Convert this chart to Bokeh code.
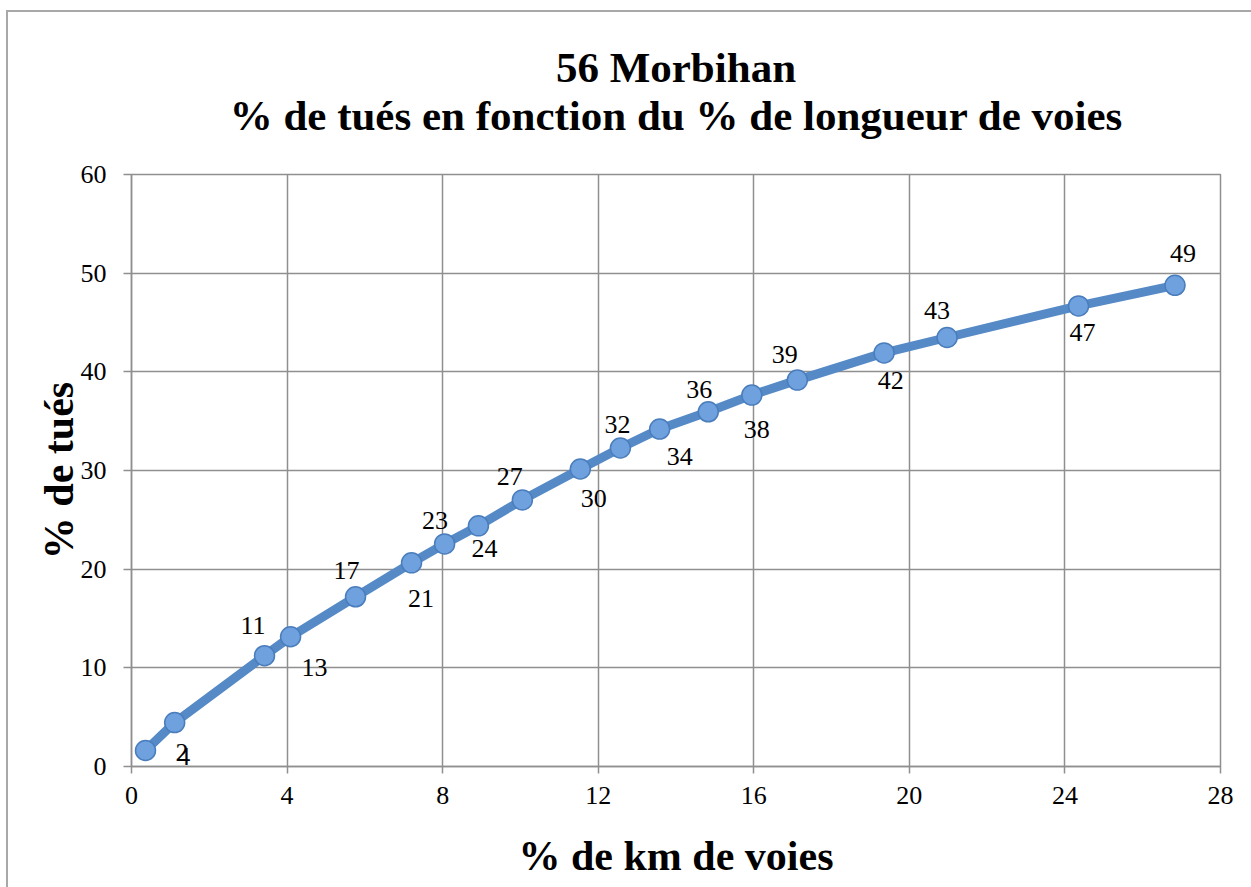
from bokeh.plotting import figure
from bokeh.models import Range1d, FixedTicker, ColumnDataSource, Div
from bokeh.layouts import column
from bokeh.core.properties import value
from bokeh.embed import file_html
from bokeh.resources import INLINE

# ---- data ----
km_pct = [0.36, 1.11, 3.42, 4.09, 5.76, 7.20, 8.05, 8.92, 10.05, 11.54,
          12.57, 13.58, 14.83, 15.95, 17.12, 19.35, 20.97, 24.35, 26.83]
tues_pct = [1.62, 4.45, 11.23, 13.15, 17.20, 20.64, 22.56, 24.39, 27.02, 30.15,
            32.28, 34.20, 35.95, 37.64, 39.16, 41.92, 43.48, 46.68, 48.77]
point_labels = ["2", "4", "11", "13", "17", "21", "23", "24", "27", "30",
                "32", "34", "36", "38", "39", "42", "43", "47", "49"]
x_ticks = [0, 4, 8, 12, 16, 20, 24, 28]
y_ticks = [0, 10, 20, 30, 40, 50, 60]

title_line1 = "56 Morbihan"
title_line2 = "% de tués en fonction du % de longueur de voies"
x_title = "% de km de voies"
y_title = "% de tués"

# ---- label placement (screen pixel offsets, style only) ----
label_dx = [36.5, 9, -11.5, 24, -9, 9.5, -9.5, 6, -12.5, 13.5,
            -3, 20, -9, 5, -12.5, 6.6, -10, 4, 8]
label_dy = [2, 34, -30, 30.5, -26, 36, -23, 23, -23, 29.5,
            -24, 27, -22, 34, -26, 28, -27, 26.5, -32]

GRID = "#8f8f8f"
LINE = "#568ac7"
SERIF = "Liberation Serif"
BORDER = "#a8a8a8"
HEAD_H = 150

head = Div(
    text=(f"<div style=\"box-sizing:border-box;width:1251px;padding-top:44px;"
          f"padding-left:101px;margin:0;"
          f"font-family:'{SERIF}',serif;font-weight:bold;font-size:43px;"
          f"line-height:48px;text-align:center;color:black;white-space:nowrap;\">"
          f"{title_line1}<br>{title_line2}</div>"),
    width=1251, height=HEAD_H, margin=0,
)

p = figure(width=1251, height=887 - HEAD_H,
           x_range=Range1d(0, 28), y_range=Range1d(0, 60),
           output_backend="svg", toolbar_location=None, title=None,
           min_border_left=131, min_border_right=31,
           min_border_top=174 - HEAD_H, min_border_bottom=121, margin=0)
p.border_fill_color = None
p.background_fill_color = "white"
p.outline_line_color = GRID
p.outline_line_width = 1.5

for ax, ticks, tout, stand in ((p.xaxis, x_ticks, 7, 13), (p.yaxis, y_ticks, 8, 17)):
    ax.ticker = FixedTicker(ticks=ticks)
    ax.axis_line_color = GRID
    ax.axis_line_width = 1.5
    ax.major_tick_line_color = GRID
    ax.major_tick_line_width = 1.5
    ax.major_tick_in = 0
    ax.major_tick_out = tout
    ax.minor_tick_line_color = None
    ax.major_label_text_font = SERIF
    ax.major_label_text_font_size = "26px"
    ax.major_label_text_color = "black"
    ax.major_label_standoff = stand
    ax.axis_label_text_font = SERIF
    ax.axis_label_text_font_style = "bold"
    ax.axis_label_text_font_size = "42px"
    ax.axis_label_text_color = "black"

p.xaxis.axis_label = x_title
p.xaxis.axis_label_standoff = 26
p.yaxis.axis_label = y_title
p.yaxis.axis_label_standoff = -4

p.xgrid.ticker = FixedTicker(ticks=x_ticks)
p.ygrid.ticker = FixedTicker(ticks=y_ticks)
for g in (p.xgrid, p.ygrid):
    g.grid_line_color = GRID
    g.grid_line_width = 1.5

src = ColumnDataSource(dict(x=km_pct, y=tues_pct, label=point_labels,
                            dx=label_dx, dy=label_dy))

p.line("x", "y", source=src, line_width=9, line_color=LINE,
       line_join="round", line_cap="round")
p.scatter("x", "y", source=src, size=20, fill_color="#6fa1df",
          line_color="#4a7dbb", line_width=1.5)
p.text(x="x", y="y", text="label", x_offset="dx", y_offset="dy", source=src,
       text_font=value(SERIF), text_font_size="26px", text_color="black",
       text_align="center", text_baseline="middle")

layout = column(head, p, spacing=0)
layout.styles = {
    "background": (f"linear-gradient({BORDER}, {BORDER}) 6px 10px / 2px calc(100% - 10px) no-repeat, "
                   f"linear-gradient({BORDER}, {BORDER}) 6px 10px / calc(100% - 6px) 2px no-repeat, white"),
}

open("out.html", "w").write(file_html(layout, INLINE))
